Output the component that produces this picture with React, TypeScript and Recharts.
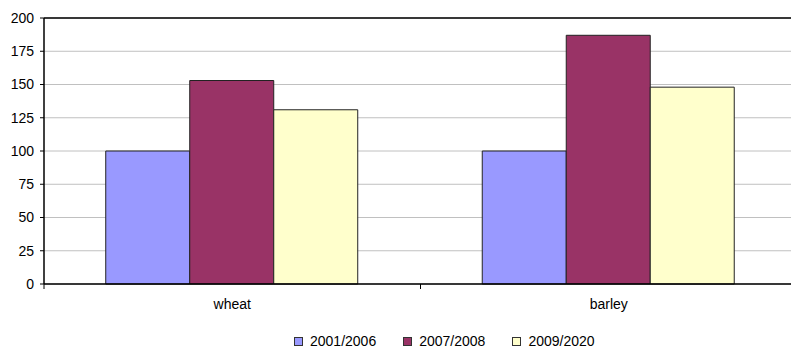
import { BarChart, Bar, XAxis, YAxis, CartesianGrid, Legend, ReferenceLine } from 'recharts';

const crops = ['wheat', 'barley'];
const period2001_2006 = [100, 100];
const period2007_2008 = [153, 187];
const period2009_2020 = [131, 148];
const yTicks = [0, 25, 50, 75, 100, 125, 150, 175, 200];

const seriesInfo = [
  { key: '2001/2006', color: '#9999FF' },
  { key: '2007/2008', color: '#993366' },
  { key: '2009/2020', color: '#FFFFCC' },
];

const data = crops.map((crop, i) => ({
  crop,
  '2001/2006': period2001_2006[i],
  '2007/2008': period2007_2008[i],
  '2009/2020': period2009_2020[i],
}));

const CHART_W = 800;
const CHART_H = 349;
const Y_AXIS_W = 44;
const MARGIN_R = 3;
const FONT = '"Liberation Sans", Arial, sans-serif';

// category ticks sit on the boundaries between groups, like spreadsheet charts
const CategoryTick = (props: any) => {
  const { x, y, payload } = props;
  const band = (CHART_W - Y_AXIS_W - MARGIN_R) / crops.length;
  const edge = x - band / 2;
  return (
    <g>
      <line x1={edge} y1={y - 8} x2={edge} y2={y - 3} stroke="#000" />
      <text x={x} y={y + 17} textAnchor="middle" fontSize={14} fill="#000" fontFamily={FONT}>
        {payload.value}
      </text>
    </g>
  );
};

const LegendBox = () => (
  <div style={{ display: 'flex', fontFamily: FONT, fontSize: 14, color: '#000' }}>
    {seriesInfo.map((s) => (
      <div key={s.key} style={{ display: 'flex', alignItems: 'center', marginRight: 27 }}>
        <span
          style={{
            width: 7,
            height: 7,
            background: s.color,
            border: '1px solid #333',
            marginRight: 7,
          }}
        />
        <span>{s.key}</span>
      </div>
    ))}
  </div>
);

export default function App() {
  return (
    <div style={{ position: 'absolute', left: 0, top: 0, width: 791, height: CHART_H, overflow: 'hidden', background: '#fff' }}>
      <BarChart
        width={CHART_W}
        height={CHART_H}
        data={data}
        margin={{ top: 18, right: MARGIN_R, left: 0, bottom: 23 }}
        barCategoryGap="16.4%"
        barGap={0}
      >
        <CartesianGrid vertical={false} stroke="#c0c0c0" strokeWidth={1} />
        <ReferenceLine y={200} stroke="#000" strokeWidth={1.5} />
        <XAxis
          dataKey="crop"
          axisLine={{ stroke: '#000', strokeWidth: 1.5 }}
          tickLine={false}
          tick={<CategoryTick />}
          interval={0}
          height={26}
        />
        <YAxis
          width={Y_AXIS_W}
          domain={[0, 200]}
          ticks={yTicks}
          interval={0}
          axisLine={{ stroke: '#000', strokeWidth: 1.5 }}
          tickLine={{ stroke: '#000' }}
          tickSize={4}
          tickMargin={6}
          tick={{ fontSize: 14, fill: '#000', fontFamily: FONT }}
        />
        <Legend
          content={<LegendBox />}
          wrapperStyle={{ left: 294, top: 333, width: 360 }}
        />
        {seriesInfo.map((s) => (
          <Bar
            key={s.key}
            dataKey={s.key}
            fill={s.color}
            stroke="#222"
            strokeWidth={1}
            isAnimationActive={false}
          />
        ))}
      </BarChart>
    </div>
  );
}
